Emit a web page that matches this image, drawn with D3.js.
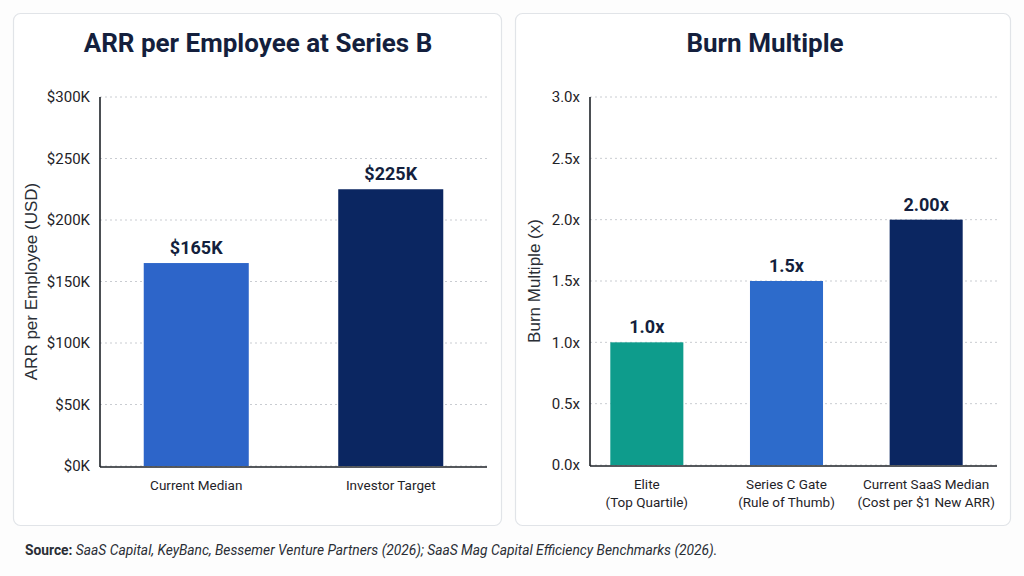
<!DOCTYPE html>
<html>
<head>
<meta charset="utf-8">
<script src="https://cdn.jsdelivr.net/npm/d3@7"></script>
<style>
  html, body { margin: 0; padding: 0; background: #fdfdfd; }
  svg { display: block; font-family: Roboto, "Liberation Sans", sans-serif; }
</style>
</head>
<body>
<svg id="chart" width="1024" height="576"></svg>
<script>
// ---- Data ----
const arrCategories = ["Current Median", "Investor Target"];
const arrValues = [165, 225];            // $K
const arrLabels = ["$165K", "$225K"];
const arrTicks = [0, 50, 100, 150, 200, 250, 300];

const burnCategories = [["Elite", "(Top Quartile)"], ["Series C Gate", "(Rule of Thumb)"], ["Current SaaS Median", "(Cost per $1 New ARR)"]];
const burnValues = [1.0, 1.5, 2.0];
const burnLabels = ["1.0x", "1.5x", "2.00x"];
const burnTicks = [0, 0.5, 1.0, 1.5, 2.0, 2.5, 3.0];

const arrColors = ["#2d65c9", "#0b2661"];
const burnColors = ["#0e9c8c", "#2d6bcb", "#0b2661"];

const svg = d3.select("#chart");
const navy = "#141f3d";

// ---- Cards ----
function card(x, y, w, h) {
  svg.append("rect").attr("x", x).attr("y", y).attr("width", w).attr("height", h)
    .attr("rx", 7).attr("fill", "#ffffff").attr("stroke", "#e1e4e8").attr("stroke-width", 1.2);
}
card(13.5, 13.5, 488, 512);
card(515.5, 13.5, 495, 512);

function panel(opts) {
  const g = svg.append("g");
  const y = d3.scaleLinear().domain(opts.domain).range([opts.y0, opts.y1]);
  const x = d3.scaleBand().domain(d3.range(opts.values.length))
    .range(opts.xRange).paddingInner(opts.pad).paddingOuter(opts.pad / 2);

  // title
  g.append("text").attr("x", opts.titleX).attr("y", 52).attr("text-anchor", "middle")
    .attr("font-size", 26).attr("font-weight", 700).attr("fill", navy).text(opts.title);

  // grid
  g.selectAll(".grid").data(opts.ticks).enter().append("line")
    .attr("x1", opts.axisX).attr("x2", opts.gridEnd)
    .attr("y1", d => y(d)).attr("y2", d => y(d))
    .attr("stroke", "#c9ccd1").attr("stroke-width", 1).attr("stroke-dasharray", "2,3");

  // y axis ticks via d3 axis
  const yAxis = d3.axisLeft(y).tickValues(opts.ticks).tickFormat(opts.fmt).tickSize(0).tickPadding(10);
  const ya = g.append("g").attr("transform", `translate(${opts.axisX},0)`).call(yAxis);
  ya.select(".domain").remove();
  ya.selectAll("text").attr("font-size", 15).attr("fill", "#1f2328").attr("font-family", "Roboto, sans-serif");

  // bars
  g.selectAll(".bar").data(opts.values).enter().append("rect")
    .attr("x", (d, i) => x(i)).attr("width", x.bandwidth())
    .attr("y", d => y(d)).attr("height", d => y(0) - y(d))
    .attr("fill", (d, i) => opts.colors[i]);

  // value labels
  g.selectAll(".vl").data(opts.values).enter().append("text")
    .attr("x", (d, i) => x(i) + x.bandwidth() / 2).attr("y", d => y(d) - 9)
    .attr("text-anchor", "middle").attr("font-size", 18).attr("font-weight", 700)
    .attr("fill", navy).text((d, i) => opts.labels[i]);

  // axis lines
  g.append("line").attr("x1", opts.axisX).attr("x2", opts.axisX).attr("y1", opts.y1).attr("y2", opts.y0 + 1)
    .attr("stroke", "#1f2328").attr("stroke-width", 1.6);
  g.append("line").attr("x1", opts.axisX).attr("x2", opts.gridEnd).attr("y1", opts.y0 + 1).attr("y2", opts.y0 + 1)
    .attr("stroke", "#1f2328").attr("stroke-width", 1.6);

  // category labels
  opts.cats.forEach((c, i) => {
    const lines = Array.isArray(c) ? c : [c];
    const t = g.append("text").attr("x", x(i) + x.bandwidth() / 2).attr("y", opts.y0 + 24)
      .attr("text-anchor", "middle").attr("font-size", 13.5).attr("fill", "#1f2328");
    lines.forEach((l, j) => t.append("tspan").attr("x", x(i) + x.bandwidth() / 2).attr("dy", j === 0 ? 0 : 18).text(l));
  });

  // y label
  const cy = (opts.y0 + opts.y1) / 2;
  g.append("text").attr("transform", `translate(${opts.ylabX},${cy}) rotate(-90)`)
    .attr("text-anchor", "middle").attr("font-size", 17).attr("fill", "#2a2e35")
    .attr("font-family", "'Liberation Sans', Arial, sans-serif").text(opts.ylabel);
}

panel({
  title: "ARR per Employee at Series B", titleX: 258,
  values: arrValues, labels: arrLabels, cats: arrCategories, colors: arrColors,
  ticks: arrTicks, domain: [0, 300], y0: 466, y1: 97,
  xRange: [99, 488], pad: 0.46, axisX: 100, gridEnd: 487,
  fmt: d => "$" + d + "K", ylabel: "ARR per Employee (USD)", ylabX: 37
});

panel({
  title: "Burn Multiple", titleX: 765,
  values: burnValues, labels: burnLabels, cats: burnCategories, colors: burnColors,
  ticks: burnTicks, domain: [0, 3], y0: 465, y1: 97,
  xRange: [577, 996], pad: 0.477, axisX: 590, gridEnd: 997,
  fmt: d => d.toFixed(1) + "x", ylabel: "Burn Multiple (x)", ylabX: 540
});

// source
const src = svg.append("text").attr("x", 25).attr("y", 555).attr("font-size", 13.8).attr("fill", "#2a2e35");
src.append("tspan").attr("font-weight", 700).text("Source:");
src.append("tspan").attr("font-style", "italic").text(" SaaS Capital, KeyBanc, Bessemer Venture Partners (2026); SaaS Mag Capital Efficiency Benchmarks (2026).");
</script>
</body>
</html>
